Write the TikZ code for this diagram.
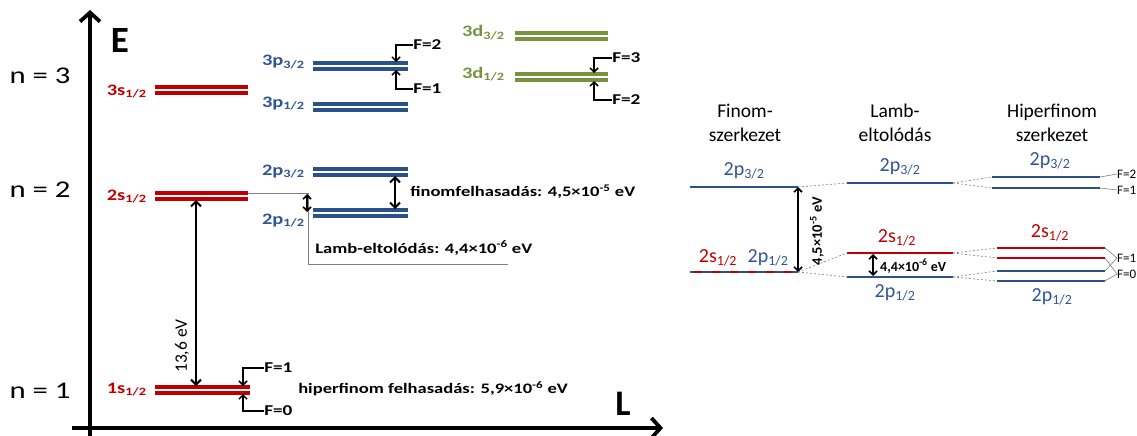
\documentclass[tikz,border=0pt]{standalone}
\usepackage{fontspec}
\setmainfont{Carlito}
\usetikzlibrary{arrows.meta}
\definecolor{lvred}{HTML}{C00000}
\definecolor{lvblue}{HTML}{2F5597}
\definecolor{lvline}{HTML}{2A5189}
\definecolor{lvgreen}{HTML}{77933C}
\definecolor{guide}{HTML}{7F7F7F}
\newcommand{\fsz}[1]{\fontsize{#1}{#1}\selectfont}
% double level line: colour, x1, x2, y1, y2
\newcommand{\dlev}[5]{\draw[lev,#1] (#2,#4) -- (#3,#4) (#2,#5) -- (#3,#5);}
\begin{document}
\begin{tikzpicture}[x=1pt,y=-1pt,
  every node/.style={inner sep=0pt},
  lev/.style={line width=3.2pt},
  slev/.style={line width=2.6pt},
  axis/.style={line width=3.8pt},
  ftip/.style={-{Straight Barb[length=4pt,width=8pt]}, line width=1.5pt},
  dbl/.style={{Straight Barb[length=5pt,width=10pt]}-{Straight Barb[length=5pt,width=10pt]}, line width=2pt},
  sdbl/.style={{Straight Barb[length=4pt,width=8pt]}-{Straight Barb[length=4pt,width=8pt]}, line width=1.6pt},
  wide/.style={xscale=1.28},
  nlab/.style={font=\fsz{24}, wide},
  llab/.style={font=\bfseries\fsz{16}, anchor=base east, wide},
  flab/.style={font=\bfseries\fsz{15}, anchor=west, wide},
  note/.style={font=\bfseries\fsz{14.5}, anchor=west, wide},
  head/.style={font=\fsz{19.5}, align=center},
  rlab/.style={font=\fsz{20}},
  rf/.style={font=\fsz{13}, anchor=west},
  guideln/.style={guide, line width=0.9pt},
  dashln/.style={guide, line width=0.6pt, dash pattern=on 2pt off 2pt}]
\useasboundingbox (0,0) rectangle (1137,436);

% ---------------- energy axes ----------------
\coordinate (ybot) at (90,436);
\coordinate (ytop) at (90,10);
\coordinate (xleft) at (72,428);
\coordinate (xright) at (663,428);
\draw[axis, -{Straight Barb[length=9pt,width=20pt]}] (ybot) -- (ytop);
\draw[axis, -{Straight Barb[length=9pt,width=20pt]}] (xleft) -- (xright);
\node[font=\bfseries\fsz{37}] (E) at (120,41) {E};
\node[font=\bfseries\fsz{36}] (L) at (623,404) {L};

\node[nlab] (n3) at (40,76) {n = 3};
\node[nlab] (n2) at (40,190) {n = 2};
\node[nlab] (n1) at (40,391) {n = 1};

% ---------------- levels ----------------
\dlev{lvred}{155}{248}{87}{93}
\dlev{lvred}{155}{248}{193}{199}
\dlev{lvred}{155}{250}{387}{393}
\dlev{lvline}{313}{408}{63}{69}
\dlev{lvline}{313}{408}{104}{110}
\dlev{lvline}{313}{408}{169}{175}
\dlev{lvline}{313}{408}{210}{216}
\dlev{lvgreen}{515}{608}{33}{39}
\dlev{lvgreen}{515}{608}{74}{80}

\node[llab, lvred] (s3) at (147,95) {3s\textsubscript{1/2}};
\node[llab, lvred] (s2) at (147,200) {2s\textsubscript{1/2}};
\node[llab, lvred] (s1) at (147,393) {1s\textsubscript{1/2}};
\node[llab, lvblue] (p33) at (305,66) {3p\textsubscript{3/2}};
\node[llab, lvblue] (p31) at (305,107) {3p\textsubscript{1/2}};
\node[llab, lvblue] (p23) at (305,175) {2p\textsubscript{3/2}};
\node[llab, lvblue] (p21) at (305,224) {2p\textsubscript{1/2}};
\node[llab, lvgreen] (d33) at (505,37) {3d\textsubscript{3/2}};
\node[llab, lvgreen] (d31) at (505,78) {3d\textsubscript{1/2}};

% ---------------- hyperfine markers ----------------
\node[flab] (p3F2) at (413,45) {F=2};
\node[flab] (p3F1) at (413,89) {F=1};
\coordinate (p3a) at (396,62);
\coordinate (p3b) at (396,70);
\draw[ftip] (p3F2.west) -| (p3a);
\draw[ftip] (p3F1.west) -| (p3b);

\node[flab] (d3F3) at (612,58) {F=3};
\node[flab] (d3F2) at (612,100) {F=2};
\coordinate (d3a) at (594,73);
\coordinate (d3b) at (594,81);
\draw[ftip] (d3F3.west) -| (d3a);
\draw[ftip] (d3F2.west) -| (d3b);

\node[flab] (s1F1) at (264,368) {F=1};
\node[flab] (s1F0) at (264,411) {F=0};
\coordinate (s1a) at (243,386);
\coordinate (s1b) at (243,394);
\draw[ftip] (s1F1.west) -| (s1a);
\draw[ftip] (s1F0.west) -| (s1b);

% ---------------- splittings ----------------
\coordinate (g2s) at (196,200);
\coordinate (g1s) at (196,386);
\draw[dbl] (g2s) -- (g1s);
\node[font=\fsz{17.5}, rotate=90] (ion) at (182,346) {13,6 eV};

\coordinate (lampa) at (248,193);
\coordinate (lampb) at (308,193);
\coordinate (lampc) at (308,264);
\coordinate (lampd) at (508,264);
\draw[guideln] (lampa) -- (lampb) -- (lampc) -- (lampd);
\coordinate (lamtop) at (307,194);
\coordinate (lambot) at (307,212);
\draw[sdbl] (lamtop) -- (lambot);
\node[note] (lamb) at (315,248) {Lamb-eltolódás: 4,4×10\textsuperscript{-6} eV};

\coordinate (fintop) at (395,176);
\coordinate (finbot) at (395,209);
\draw[dbl] (fintop) -- (finbot);
\node[note] (fine) at (410,192) {finomfelhasadás: 4,5×10\textsuperscript{-5} eV};

\node[note] (hfs) at (298,389) {hiperfinom felhasadás: 5,9×10\textsuperscript{-6} eV};

% ---------------- n = 2 detail ----------------
\node[head] (h1) at (745,123) {Finom-\\[4pt]szerkezet};
\node[head] (h2) at (895,123) {Lamb-\\[4pt]eltolódás};
\node[head] (h3) at (1052,123) {Hiperfinom\\[4pt]szerkezet};

% fine structure
\coordinate (fa1) at (690,187);
\coordinate (fa2) at (798,187);
\coordinate (fb1) at (690,272);
\coordinate (fb2) at (798,272);
\draw[slev, lvline] (fa1) -- (fa2);
\draw[slev, lvline] (fb1) -- (fb2);
\draw[slev, lvred, dash pattern=on 8pt off 10pt, dash phase=-4pt] (fb1) -- (fb2);
\node[rlab, lvblue] (c1p3) at (744,171) {2p\textsubscript{3/2}};
\node[rlab, lvred] (c1s) at (718,258) {2s\textsubscript{1/2}};
\node[rlab, lvblue] (c1p1) at (768,258) {2p\textsubscript{1/2}};
\draw[sdbl] (fa2) -- (fb2);
\node[font=\bfseries\fsz{14.5}, rotate=90] (finv) at (817,231) {4,5×10\textsuperscript{-5} eV};

% Lamb shift
\coordinate (la1) at (847,183);
\coordinate (la2) at (953,183);
\coordinate (lb1) at (847,253);
\coordinate (lb2) at (953,253);
\coordinate (lc1) at (847,277);
\coordinate (lc2) at (953,277);
\draw[slev, lvline] (la1) -- (la2);
\draw[slev, lvred] (lb1) -- (lb2);
\draw[slev, lvline] (lc1) -- (lc2);
\node[rlab, lvblue] (c2p3) at (900,167) {2p\textsubscript{3/2}};
\node[rlab, lvred] (c2s) at (897,238) {2s\textsubscript{1/2}};
\node[rlab, lvblue] (c2p1) at (895,293) {2p\textsubscript{1/2}};
\coordinate (lsa) at (873,254);
\coordinate (lsb) at (873,276);
\draw[sdbl] (lsa) -- (lsb);
\node[font=\bfseries\fsz{14}, anchor=west] (lamv) at (880,266) {4,4×10\textsuperscript{-6} eV};

% hyperfine structure
\coordinate (ha1) at (992,177);  \coordinate (ha2) at (1100,177);
\coordinate (hb1) at (992,188);  \coordinate (hb2) at (1100,188);
\coordinate (hc1) at (997,248);  \coordinate (hc2) at (1105,248);
\coordinate (hd1) at (997,258);  \coordinate (hd2) at (1105,258);
\coordinate (he1) at (997,271);  \coordinate (he2) at (1105,271);
\coordinate (hf1) at (997,281);  \coordinate (hf2) at (1105,281);
\draw[slev, lvline] (ha1) -- (ha2) (hb1) -- (hb2);
\draw[slev, lvred] (hc1) -- (hc2) (hd1) -- (hd2);
\draw[slev, lvline] (he1) -- (he2) (hf1) -- (hf2);
\node[rlab, lvblue] (c3p3) at (1050,161) {2p\textsubscript{3/2}};
\node[rlab, lvred] (c3s) at (1050,233) {2s\textsubscript{1/2}};
\node[rlab, lvblue] (c3p1) at (1052,297) {2p\textsubscript{1/2}};

% dashed correlation lines
\draw[dashln] (fa2) -- (la1);
\draw[dashln] (fb2) -- (lb1);
\draw[dashln] (fb2) -- (lc1);
\draw[dashln] (la2) -- (ha1);
\draw[dashln] (la2) -- (hb1);
\draw[dashln] (lb2) -- (hc1);
\draw[dashln] (lb2) -- (hd1);
\draw[dashln] (lc2) -- (he1);
\draw[dashln] (lc2) -- (hf1);

% F labels
\node[rf] (rF2) at (1117,174) {F=2};
\node[rf] (rF1a) at (1117,190) {F=1};
\node[rf] (rF1b) at (1117,258) {F=1};
\node[rf] (rF0) at (1117,274) {F=0};
\draw[guide, line width=0.6pt] (ha2) -- (rF2.west);
\draw[guide, line width=0.6pt] (hb2) -- (rF1a.west);
\draw[guide, line width=0.6pt] (hc2) -- (rF1b.west);
\draw[guide, line width=0.6pt] (he2) -- (rF1b.west);
\draw[guide, line width=0.6pt] (hd2) -- (rF0.west);
\draw[guide, line width=0.6pt] (hf2) -- (rF0.west);
\end{tikzpicture}
\end{document}
